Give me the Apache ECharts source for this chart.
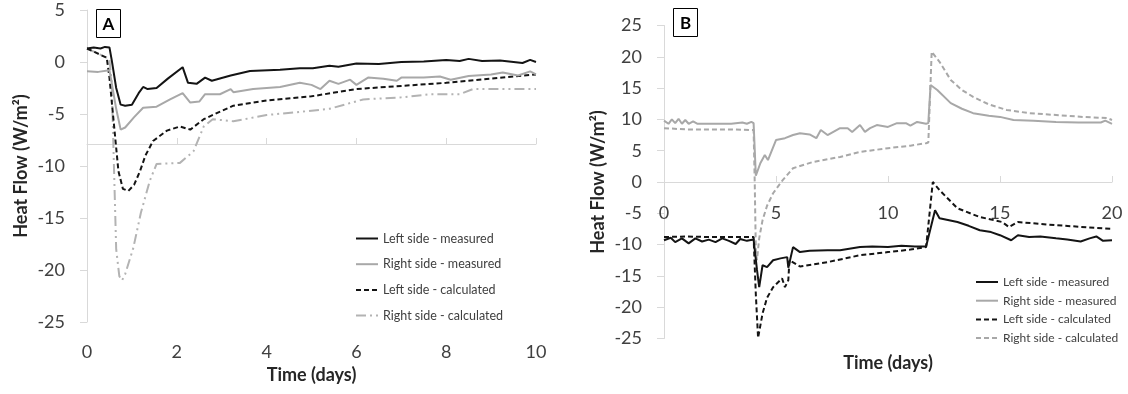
<!DOCTYPE html>
<html><head><meta charset="utf-8">
<script src="https://cdn.jsdelivr.net/npm/echarts@6/dist/echarts.min.js"></script>
<style>html,body{margin:0;padding:0;background:#fff}#c{width:1128px;height:394px}</style>
</head><body><div id="c"></div><script>
// ---- Panel A data: [time (days), heat flow (W/m²)]
var seriesNames = ['Left side - measured', 'Right side - measured', 'Left side - calculated', 'Right side - calculated'];
var aLeftMeasured = [[0,1.3],[0.15,1.4],[0.3,1.3],[0.4,1.45],[0.5,1.4],[0.55,0.2],[0.65,-2.5],[0.75,-4.1],[0.85,-4.2],[1.0,-4.1],[1.15,-3.0],[1.25,-2.4],[1.35,-2.6],[1.55,-2.5],[1.8,-1.6],[2.13,-0.5],[2.25,-2.0],[2.44,-2.1],[2.63,-1.5],[2.78,-1.8],[3.2,-1.3],[3.63,-0.87],[4.3,-0.75],[4.74,-0.6],[5.03,-0.6],[5.4,-0.35],[5.6,-0.45],[6.0,-0.15],[6.5,-0.2],[7.0,0.0],[7.5,0.05],[8.0,0.2],[8.3,0.1],[8.5,0.3],[8.8,0.1],[9.2,0.15],[9.7,-0.1],[9.87,0.2],[10,0.0]];
var aRightMeasured = [[0,-0.9],[0.25,-0.95],[0.5,-0.8],[0.55,-2.0],[0.65,-4.5],[0.75,-6.5],[0.85,-6.3],[1.05,-5.3],[1.25,-4.4],[1.55,-4.3],[1.85,-3.6],[2.13,-3.0],[2.3,-3.9],[2.5,-3.8],[2.63,-3.1],[2.96,-3.1],[3.2,-2.6],[3.26,-2.9],[3.7,-2.6],[4.3,-2.4],[4.74,-2.0],[5.0,-2.2],[5.2,-2.6],[5.4,-1.8],[5.6,-2.1],[5.86,-1.7],[6.0,-2.2],[6.26,-1.5],[6.6,-1.6],[6.9,-1.8],[7.0,-1.5],[7.5,-1.5],[7.86,-1.4],[8.1,-1.7],[8.5,-1.35],[9.0,-1.2],[9.26,-1.0],[9.6,-1.3],[9.87,-0.9],[10,-1.2]];
var aLeftCalculated = [[0,1.3],[0.2,0.9],[0.44,0.4],[0.5,-1.5],[0.6,-6],[0.7,-10.5],[0.8,-12.2],[0.92,-12.4],[1.05,-11.8],[1.18,-10.5],[1.3,-9.0],[1.47,-7.6],[1.78,-6.6],[2.07,-6.2],[2.3,-6.5],[2.6,-5.5],[3.0,-4.7],[3.26,-4.2],[4.0,-3.7],[4.74,-3.4],[5.0,-3.3],[6.0,-2.6],[7.0,-2.3],[8.0,-2.0],[9.0,-1.6],[10,-1.2]];
var aRightCalculated = [[0,1.3],[0.2,0.9],[0.5,0.3],[0.55,-2],[0.6,-10],[0.65,-18],[0.72,-20.6],[0.78,-21],[0.85,-20.4],[1.03,-17.9],[1.2,-14.5],[1.4,-11.4],[1.55,-9.8],[2.07,-9.7],[2.37,-8.6],[2.6,-6.2],[2.8,-5.5],[3.26,-5.7],[4.0,-5.1],[4.74,-4.8],[5.4,-4.5],[6.15,-3.6],[7.0,-3.4],[7.64,-3.1],[8.3,-3.1],[8.6,-2.6],[10,-2.6]];

// ---- Panel B data
var bLeftMeasured = [[0,-9.3],[0.3,-8.9],[0.5,-9.6],[0.8,-9.0],[1.1,-9.8],[1.4,-9.0],[1.7,-9.5],[2.0,-9.2],[2.3,-9.6],[2.6,-9.0],[2.9,-9.4],[3.2,-9.9],[3.4,-9.1],[3.7,-9.4],[4.0,-9.2],[4.15,-14],[4.25,-16.8],[4.4,-13.3],[4.6,-13.6],[4.87,-12.5],[5.2,-12.2],[5.5,-12],[5.55,-13.7],[5.76,-10.4],[6.07,-11.2],[6.5,-11.0],[7.3,-10.9],[7.86,-10.9],[8.75,-10.4],[9.3,-10.3],[10,-10.4],[10.6,-10.2],[11.2,-10.3],[11.7,-10.3],[12.1,-4.5],[12.3,-5.8],[13.1,-6.4],[13.6,-7.0],[14.1,-7.7],[14.6,-8.0],[15,-8.5],[15.5,-9.3],[15.8,-8.5],[16.3,-8.8],[16.8,-8.7],[17.5,-9.0],[18.0,-9.2],[18.6,-9.5],[19.0,-9.0],[19.3,-8.7],[19.6,-9.4],[20,-9.3]];
var bRightMeasured = [[0,9.8],[0.2,9.3],[0.35,10.0],[0.5,9.4],[0.65,10.1],[0.8,9.3],[0.95,9.9],[1.1,9.3],[1.3,9.7],[1.5,9.3],[2,9.3],[2.5,9.3],[3,9.3],[3.5,9.5],[3.7,9.3],[3.9,9.6],[4.0,9.4],[4.1,1.0],[4.15,1.1],[4.3,3.0],[4.5,4.3],[4.64,3.5],[5.0,6.7],[5.4,7.0],[5.76,7.5],[6.07,7.8],[6.5,7.6],[6.8,7.0],[7.0,8.3],[7.3,7.5],[7.86,8.6],[8.2,8.6],[8.4,8.0],[8.75,9.1],[8.97,8.0],[9.2,8.6],[9.5,9.1],[10.0,8.8],[10.4,9.4],[10.8,9.4],[11.0,9.0],[11.3,9.6],[11.7,9.3],[11.8,9.4],[11.9,15.5],[12.2,14.7],[12.8,12.6],[13.3,11.7],[13.8,11.0],[14.5,10.6],[15,10.4],[15.6,9.9],[16.5,9.8],[17.5,9.6],[18.5,9.5],[19.5,9.5],[19.7,9.8],[20,9.3]];
var bLeftCalculated = [[0,-8.8],[1,-8.7],[2,-8.8],[3,-8.8],[4.0,-8.8],[4.1,-18],[4.2,-24.9],[4.4,-21],[4.6,-18.5],[4.87,-16.8],[5.27,-15.4],[5.4,-16.8],[5.55,-15.7],[5.6,-12.5],[6.07,-13.5],[7.3,-12.8],[8.75,-11.7],[10,-11.2],[11,-10.8],[11.7,-10.4],[12.0,0],[12.3,-1.3],[13.1,-4.2],[14.1,-5.6],[15.1,-6.4],[15.4,-7.2],[15.8,-6.4],[17.5,-6.9],[20,-7.5]];
var bRightCalculated = [[0,8.6],[1,8.4],[2,8.4],[3,8.4],[4.0,8.3],[4.05,0],[4.1,-11],[4.15,-12.5],[4.25,-9],[4.4,-6.1],[4.6,-3.8],[4.87,-1.8],[5.3,0.3],[5.76,2.2],[6.65,3.2],[7.86,4.0],[8.75,4.8],[10,5.4],[11,5.8],[11.7,6.2],[11.8,6.3],[11.95,20.8],[12.3,19.2],[12.8,16.3],[13.3,14.7],[13.8,13.6],[14.5,12.4],[15.3,11.5],[16.3,11.0],[17.5,10.7],[18.7,10.4],[19.8,10.2],[20,9.9]];

var panelLabels = ['A', 'B'];
var xTitle = 'Time (days)';
var yTitle = 'Heat Flow (W/m²)';

var FONT = 'Lato';
var AX = '#d9d9d9';
var TXT = '#404040';
var BLACK = '#141414';
var GREY = '#a8a8a8';

function yAx(grid, min, max, interval) {
  return {
    type: 'value', gridIndex: grid, min: min, max: max, interval: interval,
    axisLine: {show: true, lineStyle: {color: AX, width: 1}},
    axisTick: {show: true, length: 7, lineStyle: {color: AX}},
    axisLabel: {fontSize: 18, color: TXT, margin: 22, fontFamily: FONT},
    splitLine: {show: false},
    name: yTitle, nameLocation: 'middle', nameGap: 57,
    nameTextStyle: {fontSize: 18, fontWeight: 'bold', color: '#262626', fontFamily: FONT}
  };
}
function line(name, data, xi, yi, color, type) {
  return {
    name: name, type: 'line', data: data, xAxisIndex: xi, yAxisIndex: yi,
    symbol: 'none', smooth: false, animation: false,
    lineStyle: {color: color, width: 2, type: type},
    itemStyle: {color: color}
  };
}

var chart = echarts.init(document.getElementById('c'), null, {renderer: 'canvas'});
chart.setOption({
  animation: false,
  textStyle: {fontFamily: FONT},
  grid: [
    {left: 87, top: 10, width: 449, height: 312},
    {left: 664, top: 25.5, width: 448, height: 313}
  ],
  xAxis: [
    {type: 'value', gridIndex: 0, min: 0, max: 10, interval: 2, position: 'bottom',
     axisLine: {show: false, onZero: false}, axisTick: {show: false},
     axisLabel: {fontSize: 18, color: TXT, margin: 21, fontFamily: FONT},
     splitLine: {show: false},
     name: xTitle, nameLocation: 'middle', nameGap: 39,
     nameTextStyle: {fontSize: 18, fontWeight: 'bold', color: '#262626', fontFamily: FONT}},
    {type: 'value', gridIndex: 0, min: 0, max: 10, interval: 2, position: 'bottom', offset: -178,
     axisLine: {show: true, onZero: false, lineStyle: {color: AX, width: 1}},
     axisTick: {show: true, inside: true, length: 6, lineStyle: {color: AX}},
     axisLabel: {show: false}, splitLine: {show: false}},
    {type: 'value', gridIndex: 1, min: 0, max: 20, interval: 5, position: 'bottom', offset: -156.5,
     axisLine: {show: true, onZero: false, lineStyle: {color: AX, width: 1}},
     axisTick: {show: true, inside: true, length: 6, lineStyle: {color: AX}},
     axisLabel: {fontSize: 18, color: TXT, margin: 22, fontFamily: FONT},
     splitLine: {show: false}},
    {type: 'value', gridIndex: 1, min: 0, max: 20, interval: 5, position: 'bottom',
     axisLine: {show: false, onZero: false}, axisTick: {show: false},
     axisLabel: {show: false}, splitLine: {show: false},
     name: xTitle, nameLocation: 'middle', nameGap: 16,
     nameTextStyle: {fontSize: 18, fontWeight: 'bold', color: '#262626', fontFamily: FONT}}
  ],
  yAxis: [yAx(0, -25, 5, 5), yAx(1, -25, 25, 5)],
  legend: [
    {orient: 'vertical', left: 350, top: 227, itemWidth: 22, itemHeight: 14, itemGap: 12.7,
     itemStyle: {opacity: 0},
     textStyle: {fontSize: 12.5, color: TXT, fontFamily: FONT}, selectedMode: false,
     data: seriesNames},
    {orient: 'vertical', left: 970, top: 271, itemWidth: 22, itemHeight: 14, itemGap: 6.7,
     itemStyle: {opacity: 0},
     textStyle: {fontSize: 12, color: TXT, fontFamily: FONT}, selectedMode: false,
     data: [seriesNames[0], seriesNames[1], seriesNames[2],
            {name: seriesNames[3], lineStyle: {type: [5, 3], color: GREY}}]}
  ],
  graphic: [
    {type: 'group', left: 96, top: 9, children: [
      {type: 'rect', shape: {x: 0, y: 0, width: 24, height: 28}, style: {fill: '#fff', stroke: '#000', lineWidth: 1}},
      {type: 'text', x: 12, y: 15, style: {text: panelLabels[0], font: 'bold 17px Lato', fill: '#000', align: 'center', verticalAlign: 'middle', textAlign: 'center', textVerticalAlign: 'middle'}}
    ]},
    {type: 'group', left: 673, top: 8, children: [
      {type: 'rect', shape: {x: 0, y: 0, width: 24, height: 28}, style: {fill: '#fff', stroke: '#000', lineWidth: 1}},
      {type: 'text', x: 12, y: 15, style: {text: panelLabels[1], font: 'bold 17px Lato', fill: '#000', align: 'center', verticalAlign: 'middle', textAlign: 'center', textVerticalAlign: 'middle'}}
    ]}
  ],
  series: [
    line(seriesNames[3], aRightCalculated, 0, 0, '#b3b3b3', [10, 4, 2, 4, 2, 4]),
    line(seriesNames[2], aLeftCalculated, 0, 0, BLACK, [5, 3]),
    line(seriesNames[1], aRightMeasured, 0, 0, GREY, 'solid'),
    line(seriesNames[0], aLeftMeasured, 0, 0, BLACK, 'solid'),
    line(seriesNames[3], bRightCalculated, 2, 1, GREY, [5, 3]),
    line(seriesNames[2], bLeftCalculated, 2, 1, BLACK, [5, 3]),
    line(seriesNames[1], bRightMeasured, 2, 1, GREY, 'solid'),
    line(seriesNames[0], bLeftMeasured, 2, 1, BLACK, 'solid')
  ]
});
</script></body></html>
